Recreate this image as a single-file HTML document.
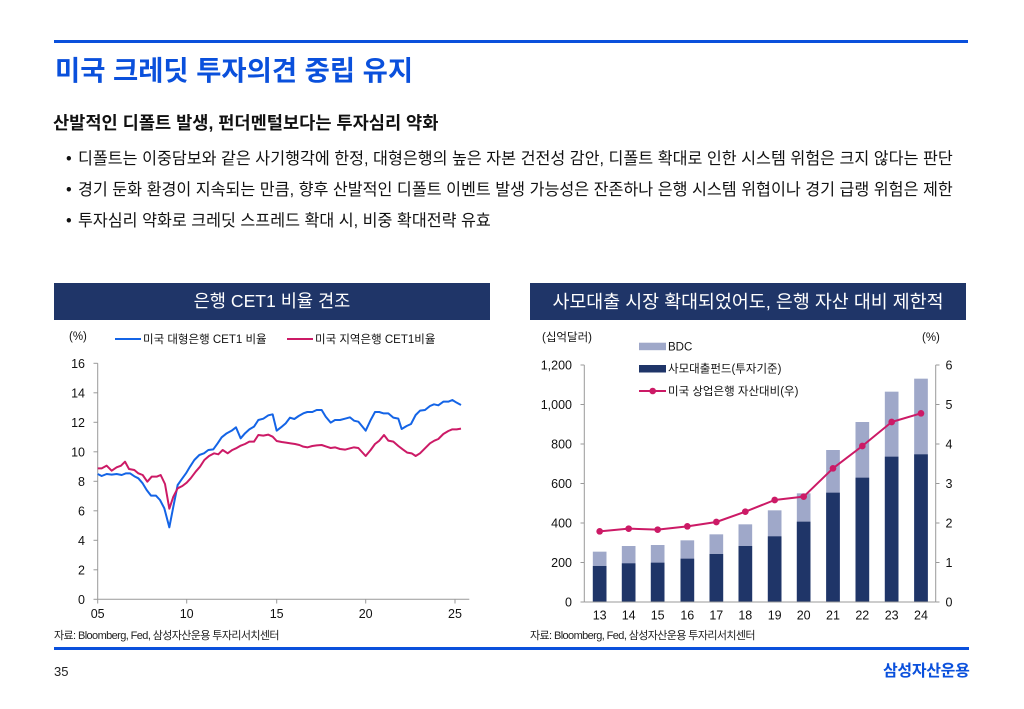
<!DOCTYPE html>
<html>
<head>
<meta charset="utf-8">
<style>
  html,body{margin:0;padding:0;background:#fff;}
  body{width:1024px;height:709px;position:relative;overflow:hidden;
       font-family:"Liberation Sans","Noto Sans CJK KR",sans-serif;color:#111;}
  .abs{position:absolute;white-space:nowrap;}
  .title{left:55px;top:52px;line-height:37px;font-size:27.4px;font-weight:bold;color:#0a50dc;}
  .sub{left:53px;top:110px;line-height:26px;font-size:17.6px;font-weight:bold;color:#111;}
  .bul{left:66px;line-height:24px;font-size:16.2px;color:#111;}
  .bul .dot{display:inline-block;width:12px;}
  .bar{position:absolute;top:283px;height:37px;background:#1f3568;color:#fff;
       line-height:37px;text-align:center;}
  .src{font-size:11px;letter-spacing:-0.6px;color:#222;line-height:14px;}
</style>
</head>
<body>
<div class="abs" style="left:54px;top:40px;width:914px;height:3px;background:#0a50dc;"></div>
<div class="abs title">미국 크레딧 투자의견 중립 유지</div>
<div class="abs sub">산발적인 디폴트 발생, 펀더멘털보다는 투자심리 약화</div>
<div class="abs bul" style="top:147px;"><span class="dot">•</span>디폴트는 이중담보와 같은 사기행각에 한정, 대형은행의 높은 자본 건전성 감안, 디폴트 확대로 인한 시스템 위험은 크지 않다는 판단</div>
<div class="abs bul" style="top:178px;"><span class="dot">•</span>경기 둔화 환경이 지속되는 만큼, 향후 산발적인 디폴트 이벤트 발생 가능성은 잔존하나 은행 시스템 위협이나 경기 급랭 위험은 제한</div>
<div class="abs bul" style="top:209px;"><span class="dot">•</span>투자심리 약화로 크레딧 스프레드 확대 시, 비중 확대전략 유효</div>

<div class="bar" style="left:54px;width:436px;font-size:17.6px;">은행 CET1 비율 견조</div>
<div class="bar" style="left:530px;width:436px;font-size:18.4px;">사모대출 시장 확대되었어도, 은행 자산 대비 제한적</div>

<svg class="abs" style="left:0;top:0;" width="1024" height="709" viewBox="0 0 1024 709" xmlns="http://www.w3.org/2000/svg"
     font-family="Liberation Sans, Noto Sans CJK KR, sans-serif">
  <!-- LEFT CHART -->
  <g fill="#111" font-size="11.5">
    <text x="69" y="340">(%)</text>
    <line x1="115" y1="339" x2="141" y2="339" stroke="#1464e6" stroke-width="2"/>
    <text x="143" y="343">미국 대형은행 CET1 비율</text>
    <line x1="287" y1="339" x2="313" y2="339" stroke="#cc1a66" stroke-width="2"/>
    <text x="315" y="343">미국 지역은행 CET1비율</text>
  </g>
  <g stroke="#999" stroke-width="1" fill="none">
    <line x1="97.7" y1="363.3" x2="97.7" y2="599.3"/>
    <line x1="97.7" y1="599.3" x2="469.3" y2="599.3"/>
    <line x1="93.5" y1="363.3" x2="97.7" y2="363.3"/>
    <line x1="93.5" y1="392.8" x2="97.7" y2="392.8"/>
    <line x1="93.5" y1="422.3" x2="97.7" y2="422.3"/>
    <line x1="93.5" y1="451.8" x2="97.7" y2="451.8"/>
    <line x1="93.5" y1="481.3" x2="97.7" y2="481.3"/>
    <line x1="93.5" y1="510.8" x2="97.7" y2="510.8"/>
    <line x1="93.5" y1="540.3" x2="97.7" y2="540.3"/>
    <line x1="93.5" y1="569.8" x2="97.7" y2="569.8"/>
    <line x1="93.5" y1="599.3" x2="97.7" y2="599.3"/>
    <line x1="97.7" y1="599.3" x2="97.7" y2="603.5"/>
    <line x1="186.7" y1="599.3" x2="186.7" y2="603.5"/>
    <line x1="276.7" y1="599.3" x2="276.7" y2="603.5"/>
    <line x1="365.7" y1="599.3" x2="365.7" y2="603.5"/>
    <line x1="455" y1="599.3" x2="455" y2="603.5"/>
  </g>
  <g fill="#111" font-size="12.5" text-anchor="end">
    <text x="85" y="367.8">16</text>
    <text x="85" y="397.3">14</text>
    <text x="85" y="426.8">12</text>
    <text x="85" y="456.3">10</text>
    <text x="85" y="485.8">8</text>
    <text x="85" y="515.3">6</text>
    <text x="85" y="544.8">4</text>
    <text x="85" y="574.3">2</text>
    <text x="85" y="603.8">0</text>
  </g>
  <g fill="#111" font-size="12.5" text-anchor="middle">
    <text x="97.7" y="618">05</text>
    <text x="186.7" y="618">10</text>
    <text x="276.7" y="618">15</text>
    <text x="365.7" y="618">20</text>
    <text x="455" y="618">25</text>
  </g>
  <g transform="translate(50 320) scale(0.33333)" fill="none" stroke-width="6" stroke-linejoin="round">
    <polyline stroke="#1464e6" points="143,462 155,468 170,462 185,464 200,462 215,465 228,460 240,460 255,470 265,475 278,490 290,510 303,527 318,527 330,540 343,565 358,622 370,560 383,495 395,478 408,460 420,440 433,420 448,405 462,400 475,390 490,388 503,370 515,352 530,340 545,332 558,322 572,355 585,340 598,328 612,320 625,300 640,296 655,286 668,283 680,332 693,322 707,310 720,293 733,297 746,288 760,280 772,276 787,276 800,270 815,270 827,290 842,308 855,300 870,300 885,296 900,292 912,302 925,305 947,332 962,300 975,276 988,276 1000,280 1015,280 1030,293 1045,296 1055,327 1070,318 1083,312 1097,285 1110,272 1125,270 1140,258 1152,253 1165,256 1180,245 1195,245 1207,240 1220,248 1233,255"/>
    <polyline stroke="#cc1a66" points="143,445 155,445 170,437 185,452 200,442 213,437 225,425 237,447 253,450 265,460 278,465 292,485 305,470 320,470 332,465 345,492 358,566 370,530 383,505 397,498 410,488 422,475 437,455 450,440 463,420 477,408 492,400 505,403 518,390 533,400 547,390 558,385 572,377 585,372 598,365 612,365 625,345 640,347 655,344 668,350 680,363 695,366 708,368 722,370 735,372 748,375 760,380 773,382 787,378 800,376 815,375 830,380 842,384 855,382 870,387 885,389 900,385 912,382 925,384 947,408 962,390 975,372 988,362 1002,345 1015,362 1030,365 1045,378 1058,388 1072,398 1085,400 1097,408 1110,400 1125,385 1140,370 1153,362 1165,357 1180,342 1195,333 1207,328 1220,328 1233,326"/>
  </g>

  <!-- RIGHT CHART -->
  <g fill="#111" font-size="11.5">
    <text x="542" y="341">(십억달러)</text>
    <text x="922" y="341">(%)</text>
    <rect x="639" y="342.7" width="27" height="7.5" fill="#9fa8c9"/>
    <text x="668" y="350.5">BDC</text>
    <rect x="639" y="365" width="27" height="7.5" fill="#1f3568"/>
    <text x="668" y="372.5">사모대출펀드(투자기준)</text>
    <line x1="639" y1="391" x2="666" y2="391" stroke="#cc1a66" stroke-width="2"/>
    <circle cx="652.7" cy="391" r="3.3" fill="#cc1a66"/>
    <text x="668" y="395">미국 상업은행 자산대비(우)</text>
  </g>
  <g transform="translate(525 320) scale(0.33333)">
    <g fill="#9fa8c9">
      <rect x="203.5" y="695" width="41" height="151"/>
      <rect x="290.5" y="678" width="41" height="168"/>
      <rect x="377.5" y="675" width="41" height="171"/>
      <rect x="466.5" y="661" width="41" height="185"/>
      <rect x="553.5" y="643" width="41" height="203"/>
      <rect x="640.5" y="613" width="41" height="233"/>
      <rect x="728.5" y="571" width="41" height="275"/>
      <rect x="815.5" y="520" width="41" height="326"/>
      <rect x="903.5" y="390" width="41" height="456"/>
      <rect x="991.5" y="306" width="41" height="540"/>
      <rect x="1079.5" y="215" width="41" height="631"/>
      <rect x="1167.5" y="176" width="41" height="670"/>
    </g>
    <g fill="#1f3568">
      <rect x="203.5" y="738" width="41" height="108"/>
      <rect x="290.5" y="730" width="41" height="116"/>
      <rect x="377.5" y="728" width="41" height="118"/>
      <rect x="466.5" y="716" width="41" height="130"/>
      <rect x="553.5" y="702" width="41" height="144"/>
      <rect x="640.5" y="678" width="41" height="168"/>
      <rect x="728.5" y="649" width="41" height="197"/>
      <rect x="815.5" y="605" width="41" height="241"/>
      <rect x="903.5" y="518" width="41" height="328"/>
      <rect x="991.5" y="473" width="41" height="373"/>
      <rect x="1079.5" y="410" width="41" height="436"/>
      <rect x="1167.5" y="403" width="41" height="443"/>
    </g>
    <polyline fill="none" stroke="#cc1a66" stroke-width="6" stroke-linejoin="round"
      points="224,634 311,626 398,629 487,619 574,606 661,575 749,540 836,530 924,445 1012,378 1100,306 1188,280"/>
    <g fill="#cc1a66">
      <circle cx="224" cy="634" r="10"/><circle cx="311" cy="626" r="10"/><circle cx="398" cy="629" r="10"/>
      <circle cx="487" cy="619" r="10"/><circle cx="574" cy="606" r="10"/><circle cx="661" cy="575" r="10"/>
      <circle cx="749" cy="540" r="10"/><circle cx="836" cy="530" r="10"/><circle cx="924" cy="445" r="10"/>
      <circle cx="1012" cy="378" r="10"/><circle cx="1100" cy="306" r="10"/><circle cx="1188" cy="280" r="10"/>
    </g>
  </g>
  <g stroke="#999" stroke-width="1" fill="none">
    <line x1="584.3" y1="365" x2="584.3" y2="602"/>
    <line x1="935.7" y1="365" x2="935.7" y2="602"/>
    <line x1="584.3" y1="602" x2="935.7" y2="602"/>
    <line x1="580.5" y1="365" x2="584.3" y2="365"/>
    <line x1="580.5" y1="404.5" x2="584.3" y2="404.5"/>
    <line x1="580.5" y1="444" x2="584.3" y2="444"/>
    <line x1="580.5" y1="483.5" x2="584.3" y2="483.5"/>
    <line x1="580.5" y1="523" x2="584.3" y2="523"/>
    <line x1="580.5" y1="562.5" x2="584.3" y2="562.5"/>
    <line x1="580.5" y1="602" x2="584.3" y2="602"/>
    <line x1="935.7" y1="365" x2="939.5" y2="365"/>
    <line x1="935.7" y1="404.5" x2="939.5" y2="404.5"/>
    <line x1="935.7" y1="444" x2="939.5" y2="444"/>
    <line x1="935.7" y1="483.5" x2="939.5" y2="483.5"/>
    <line x1="935.7" y1="523" x2="939.5" y2="523"/>
    <line x1="935.7" y1="562.5" x2="939.5" y2="562.5"/>
    <line x1="935.7" y1="602" x2="939.5" y2="602"/>
  </g>
  <g fill="#111" font-size="12.5" text-anchor="end">
    <text x="572" y="369.5">1,200</text>
    <text x="572" y="409">1,000</text>
    <text x="572" y="448.5">800</text>
    <text x="572" y="488">600</text>
    <text x="572" y="527.5">400</text>
    <text x="572" y="567">200</text>
    <text x="572" y="606.5">0</text>
  </g>
  <g fill="#111" font-size="12.5">
    <text x="945.5" y="369.5">6</text>
    <text x="945.5" y="409">5</text>
    <text x="945.5" y="448.5">4</text>
    <text x="945.5" y="488">3</text>
    <text x="945.5" y="527.5">2</text>
    <text x="945.5" y="567">1</text>
    <text x="945.5" y="606.5">0</text>
  </g>
  <g fill="#111" font-size="12.5" text-anchor="middle">
    <text x="599.7" y="619.5">13</text>
    <text x="628.7" y="619.5">14</text>
    <text x="657.7" y="619.5">15</text>
    <text x="687.3" y="619.5">16</text>
    <text x="716.3" y="619.5">17</text>
    <text x="745.3" y="619.5">18</text>
    <text x="774.7" y="619.5">19</text>
    <text x="803.7" y="619.5">20</text>
    <text x="833" y="619.5">21</text>
    <text x="862.3" y="619.5">22</text>
    <text x="891.7" y="619.5">23</text>
    <text x="921" y="619.5">24</text>
  </g>
</svg>

<div class="abs src" style="left:54px;top:629px;">자료: Bloomberg, Fed, 삼성자산운용 투자리서치센터</div>
<div class="abs src" style="left:530px;top:629px;">자료: Bloomberg, Fed, 삼성자산운용 투자리서치센터</div>
<div class="abs" style="left:54px;top:647px;width:915px;height:3px;background:#0a50dc;"></div>
<div class="abs" style="left:54px;top:663px;font-size:13px;line-height:18px;color:#222;">35</div>
<div class="abs" style="left:883px;top:661px;font-size:16px;line-height:22px;font-weight:bold;color:#0a50dc;letter-spacing:-0.3px;">삼성자산운용</div>
</body>
</html>
